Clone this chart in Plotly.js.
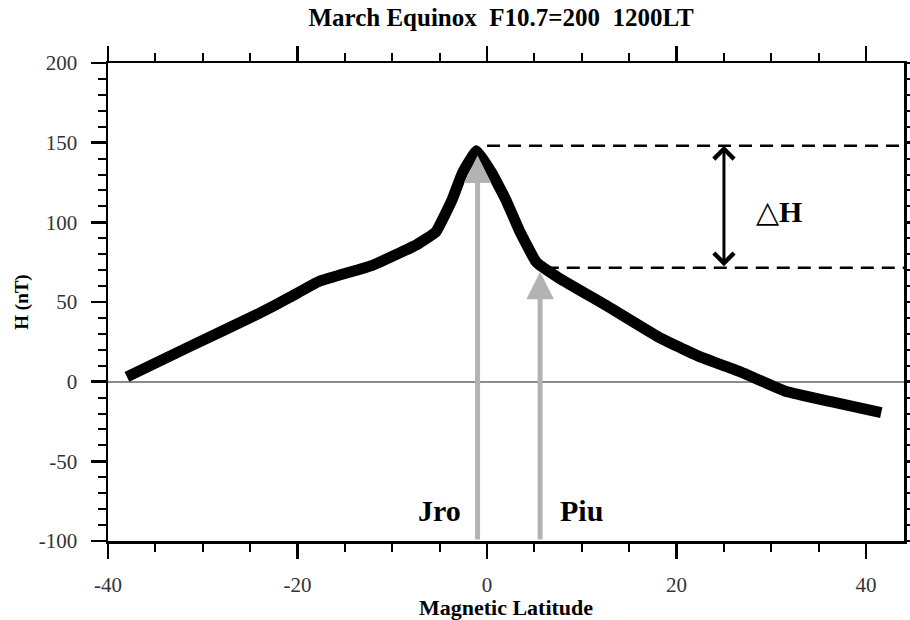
<!DOCTYPE html>
<html>
<head>
<meta charset="utf-8">
<script src="https://cdn.plot.ly/plotly-3.0.1.min.js"></script>
<style>html,body{margin:0;padding:0;background:#fff;}#chart{width:910px;height:620px;}</style>
</head>
<body>
<div id="chart"></div>
<script>
// Curve: H (nT) vs magnetic latitude
const latitude = [-38, -31.4, -24, -20.8, -17.7, -12.1, -7.4, -5.4, -3.7, -2.6, -1.1, 0.5, 2, 3.4, 5.2, 7.6, 12.8, 18.1, 22.3, 26.8, 31.5, 36.3, 41.6];
const hValues  = [3, 22, 43, 53, 63, 73, 86, 94, 114, 131, 145, 131, 114, 95, 75, 65, 47, 28, 16, 6, -6, -12.6, -19.5];

// Tick labels (plain hyphen minus as in the reference)
const xTickVals = [-40, -20, 0, 20, 40];
const xTickText = ["-40", "-20", "0", "20", "40"];
const yTickVals = [-100, -50, 0, 50, 100, 150, 200];
const yTickText = ["-100", "-50", "0", "50", "100", "150", "200"];

// Stations (latitude, H at station)
const stationNames = ["Jro", "Piu"];
const stationLat   = [-1.0, 5.6];
const stationH     = [142, 69];
const stationLabelLat = [-5.0, 10.0];
const stationLabelH   = [-81, -81];

// Delta H levels
const peakH = 148;
const piuH  = 71.5;
const dashStartLat = [0, 6.2];
const deltaLat = 25;
const deltaLabel = {lat: 30.8, h: 107};

const xRange = [-40, 44];
const yRange = [-100, 200];

const serif = "Liberation Serif, Times New Roman, serif";

const curve = {
  x: latitude, y: hValues, type: "scatter", mode: "lines",
  line: {color: "#000", width: 11, shape: "spline", smoothing: 0.3},
  hoverinfo: "skip", showlegend: false
};

const annotations = [];
for (let i = 0; i < stationNames.length; i++) {
  annotations.push({
    x: stationLat[i], y: stationH[i], ax: stationLat[i], ay: yRange[0],
    xref: "x", yref: "y", axref: "x", ayref: "y",
    showarrow: true, arrowhead: 2, arrowsize: 1.1, arrowwidth: 5,
    arrowcolor: "#b3b3b3", standoff: 0, text: ""
  });
  annotations.push({
    x: stationLabelLat[i], y: stationLabelH[i], xref: "x", yref: "y",
    text: "<b>" + stationNames[i] + "</b>", showarrow: false,
    font: {family: serif, size: 30, color: "#000"}
  });
}
annotations.push({
  x: deltaLat, y: peakH, ax: deltaLat, ay: piuH,
  xref: "x", yref: "y", axref: "x", ayref: "y",
  showarrow: true, arrowhead: 4, startarrowhead: 4, arrowside: "end+start",
  arrowsize: 1.3, startarrowsize: 1.3, arrowwidth: 3, arrowcolor: "#000",
  standoff: 0, startstandoff: 0, text: ""
});
annotations.push({
  x: deltaLabel.lat, y: deltaLabel.h, xref: "x", yref: "y",
  text: "\u25B3<b>H</b>", showarrow: false,
  font: {family: serif, size: 30, color: "#000"}
});

const shapes = [
  {type: "line", xref: "x", yref: "y", x0: dashStartLat[0], x1: xRange[1], y0: peakH, y1: peakH,
   line: {color: "#000", width: 2.5, dash: "13px,8px"}},
  {type: "line", xref: "x", yref: "y", x0: dashStartLat[1], x1: xRange[1], y0: piuH, y1: piuH,
   line: {color: "#000", width: 2.5, dash: "13px,8px"}}
];

const layout = {
  width: 910, height: 620,
  margin: {l: 108, r: 6, t: 63, b: 79},
  paper_bgcolor: "#fff", plot_bgcolor: "#fff",
  showlegend: false,
  title: {
    text: "<b>March Equinox\u00a0\u00a0F10.7=200\u00a0\u00a01200LT</b>",
    font: {family: serif, size: 25, color: "#000"},
    x: 501/910, xref: "container", xanchor: "center",
    y: 1 - 17/620, yref: "container", yanchor: "middle"
  },
  xaxis: {
    range: xRange, tickmode: "array", tickvals: xTickVals, ticktext: xTickText,
    showgrid: false, zeroline: false,
    showline: true, linecolor: "#000", linewidth: 2.5, mirror: "ticks",
    ticks: "outside", ticklen: 15, tickwidth: 2.5, tickcolor: "#000",
    minor: {dtick: 5, tick0: 0, ticks: "outside", ticklen: 8, tickwidth: 2, tickcolor: "#000", showgrid: false},
    ticklabelstandoff: 8,
    tickfont: {family: serif, size: 21, color: "#333"},
    title: {text: "<b>Magnetic Latitude</b>", font: {family: serif, size: 22, color: "#000"}, standoff: 3}
  },
  yaxis: {
    range: yRange, tickmode: "array", tickvals: yTickVals, ticktext: yTickText,
    showgrid: false,
    zeroline: true, zerolinecolor: "#8c8c8c", zerolinewidth: 2,
    showline: true, linecolor: "#000", linewidth: 2.5, mirror: "ticks",
    ticks: "outside", ticklen: 15, tickwidth: 2.5, tickcolor: "#000",
    minor: {dtick: 10, tick0: 0, ticks: "outside", ticklen: 8, tickwidth: 2, tickcolor: "#000", showgrid: false},
    ticklabelstandoff: 9,
    tickfont: {family: serif, size: 21, color: "#333"},
    title: {text: "<b>H (nT)</b>", font: {family: serif, size: 19, color: "#000"}, standoff: 5}
  },
  annotations: annotations,
  shapes: shapes
};

Plotly.newPlot("chart", [curve], layout, {staticPlot: true, displayModeBar: false});
</script>
</body>
</html>
